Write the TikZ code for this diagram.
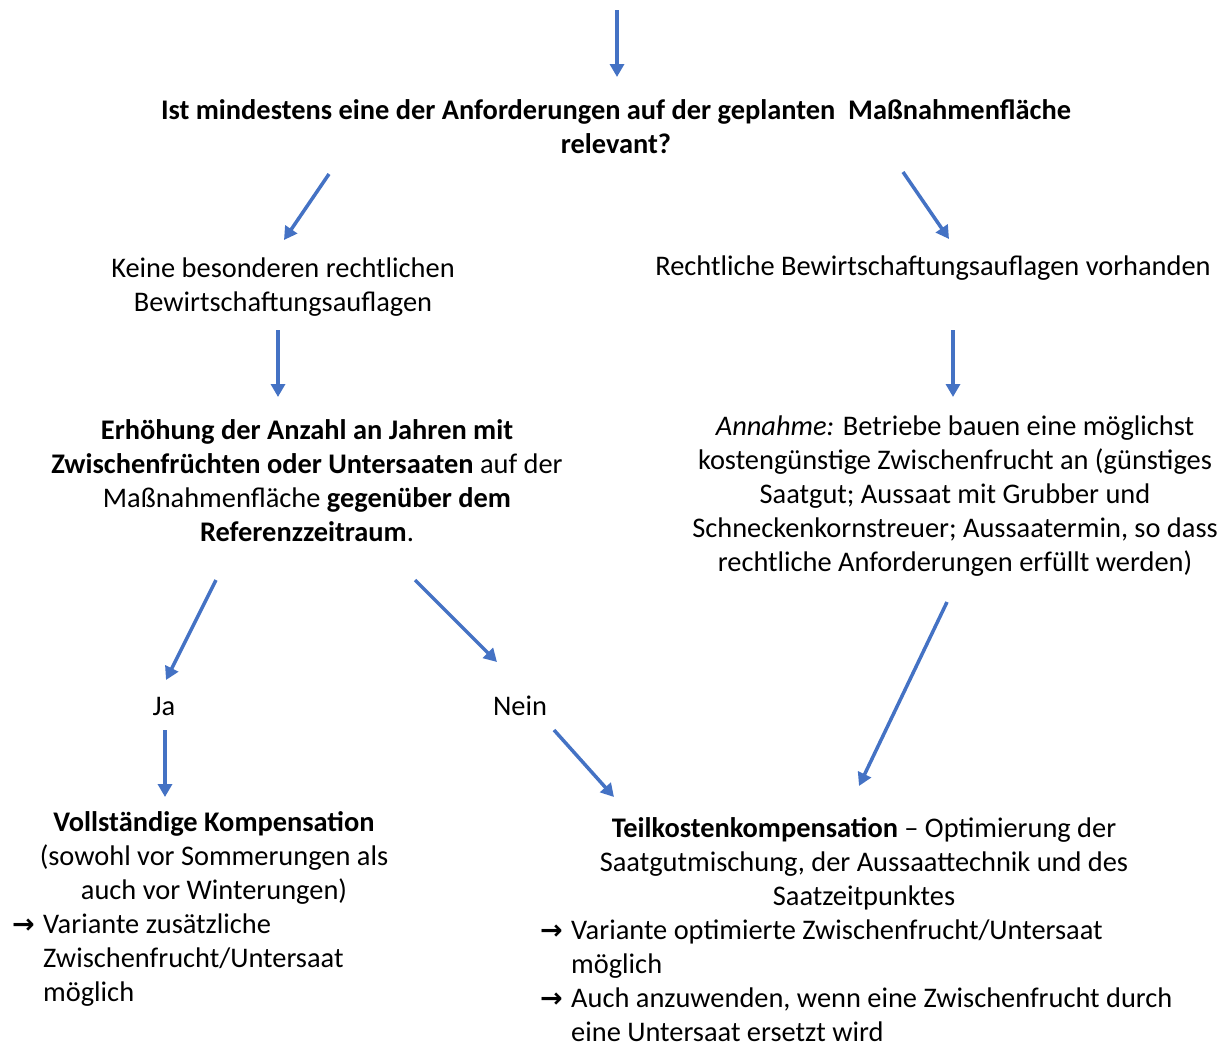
\documentclass[tikz,border=0pt]{standalone}
\usepackage{fontspec}
\setmainfont{Carlito}
\newfontfamily\symfont{DejaVu Sans}
\usetikzlibrary{arrows.meta}
\definecolor{arrowblue}{HTML}{4472C4}
\tikzset{
  flowarrow/.style={draw=arrowblue, line width=3.5pt, -{Triangle[width=14pt,length=13pt]}},
  txt/.style={align=center, inner sep=0pt, font=\fontsize{28.4}{34}\selectfont},
  ltxt/.style={align=left, inner sep=0pt, font=\fontsize{28.4}{34}\selectfont}
}
\newcommand{\rarr}{\makebox[31pt][l]{\symfont\bfseries\fontsize{27}{34}\selectfont →}}
\newcommand{\rind}{\hspace*{31pt}}
\begin{document}
\begin{tikzpicture}[x=1pt,y=-1pt]
\useasboundingbox (0,0) rectangle (1226,1045);
% texts
\node[txt] (q) at (616,127) {\textbf{Ist mindestens eine der Anforderungen auf der geplanten\ \ Maßnahmenfläche}\\\textbf{relevant?}};
\node[txt] (keine) at (283,287) {Keine besonderen rechtlichen\\Bewirtschaftungsauflagen};
\node[txt] (recht) at (933,268) {Rechtliche Bewirtschaftungsauflagen vorhanden};
\node[txt] (erh) at (307,481) {\textbf{Erhöhung der Anzahl an Jahren mit}\\\textbf{Zwischenfrüchten oder Untersaaten} auf der\\Maßnahmenfläche \textbf{gegenüber dem}\\\textbf{Referenzzeitraum}.};
\node[txt] (ann) at (955,496) {\textit{Annahme:} Betriebe bauen eine möglichst\\kostengünstige Zwischenfrucht an (günstiges\\Saatgut; Aussaat mit Grubber und\\Schneckenkornstreuer; Aussaatermin, so dass\\rechtliche Anforderungen erfüllt werden)};
\node[txt] (ja) at (164,706) {Ja};
\node[txt] (nein) at (520,706) {Nein};
\node[txt] (voll) at (214,858) {\textbf{Vollständige Kompensation}\\(sowohl vor Sommerungen als\\auch vor Winterungen)};
\node[ltxt, anchor=west] (vollv) at (12,960) {\rarr Variante zusätzliche\\\rind Zwischenfrucht/Untersaat\\\rind möglich};
\node[txt] (teil) at (864,864) {\textbf{Teilkostenkompensation} -- Optimierung der\\Saatgutmischung, der Aussaattechnik und des\\Saatzeitpunktes};
\node[ltxt, anchor=west] (teilv) at (540,981) {\rarr Variante optimierte Zwischenfrucht/Untersaat\\\rind möglich\\\rarr Auch anzuwenden, wenn eine Zwischenfrucht durch\\\rind eine Untersaat ersetzt wird};
% arrow endpoints
\coordinate (s0) at (617,10);   \coordinate (e0) at (617,77);
\coordinate (s1) at (329,174);  \coordinate (e1) at (284,240);
\coordinate (s2) at (903,172);  \coordinate (e2) at (949,239);
\coordinate (s3) at (278,330);  \coordinate (e3) at (278,397);
\coordinate (s4) at (953,330);  \coordinate (e4) at (953,397);
\coordinate (s5) at (216,580);  \coordinate (e5) at (166,680);
\coordinate (s6) at (415,580);  \coordinate (e6) at (497,662);
\coordinate (s7) at (165,730);  \coordinate (e7) at (165,797);
\coordinate (s8) at (554,730);  \coordinate (e8) at (614,797);
\coordinate (s9) at (947,602);  \coordinate (e9) at (859,786);
\foreach \i in {0,...,9} { \draw[flowarrow] (s\i) -- (e\i); }
\end{tikzpicture}
\end{document}
